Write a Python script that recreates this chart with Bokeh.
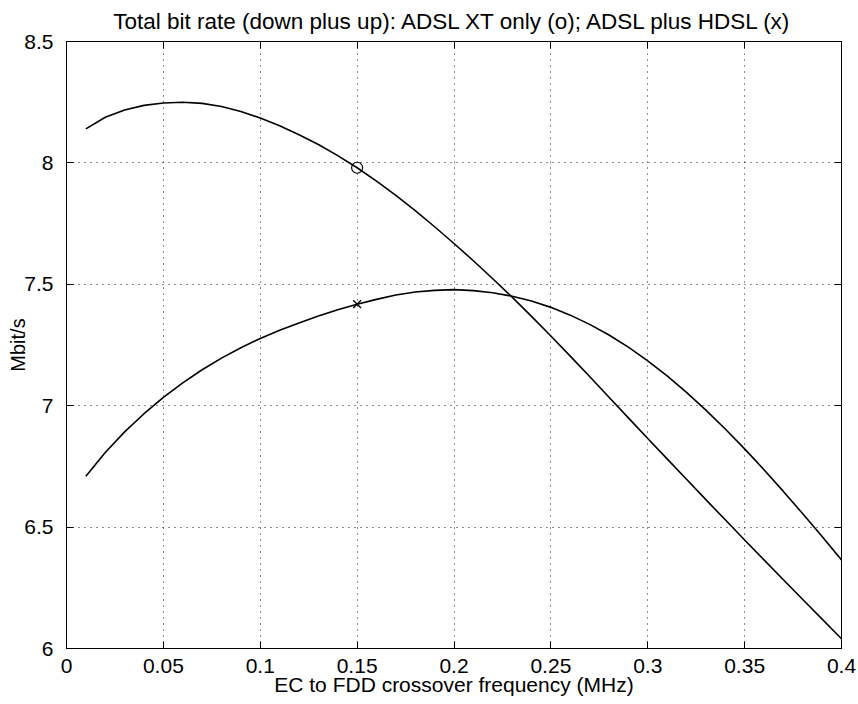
from bokeh.plotting import figure
from bokeh.models import LinearAxis, FixedTicker
from bokeh.embed import file_html
from bokeh.resources import INLINE

# Data
freq = [0.01, 0.02, 0.03, 0.04, 0.05, 0.06, 0.07, 0.08, 0.09, 0.10,
        0.11, 0.12, 0.13, 0.14, 0.15, 0.16, 0.17, 0.18, 0.19, 0.20,
        0.21, 0.22, 0.23, 0.24, 0.25, 0.26, 0.27, 0.28, 0.29, 0.30,
        0.31, 0.32, 0.33, 0.34, 0.35, 0.36, 0.37, 0.38, 0.39, 0.40]
adsl_xt_only = [8.140, 8.188, 8.218, 8.237, 8.247, 8.250, 8.245, 8.232, 8.212, 8.185,
                8.153, 8.116, 8.076, 8.030, 7.980, 7.925, 7.866, 7.803, 7.737, 7.668,
                7.597, 7.523, 7.447, 7.368, 7.287, 7.204, 7.120, 7.035, 6.950, 6.865,
                6.781, 6.697, 6.613, 6.530, 6.447, 6.365, 6.283, 6.202, 6.121, 6.040]
adsl_plus_hdsl = [6.709, 6.807, 6.892, 6.967, 7.034, 7.094, 7.148, 7.196, 7.239, 7.277,
                  7.311, 7.341, 7.369, 7.395, 7.418, 7.438, 7.456, 7.468, 7.475, 7.478,
                  7.474, 7.465, 7.451, 7.431, 7.405, 7.373, 7.335, 7.291, 7.241, 7.185,
                  7.123, 7.055, 6.982, 6.904, 6.822, 6.736, 6.647, 6.555, 6.461, 6.365]
marker_freq = [0.15]
marker_xt_only = [7.980]
marker_plus_hdsl = [7.418]

x_ticks = [0, 0.05, 0.1, 0.15, 0.2, 0.25, 0.3, 0.35, 0.4]
x_tick_labels = ["0", "0.05", "0.1", "0.15", "0.2", "0.25", "0.3", "0.35", "0.4"]
y_ticks = [6, 6.5, 7, 7.5, 8, 8.5]
y_tick_labels = ["6", "6.5", "7", "7.5", "8", "8.5"]
title_text = "Total bit rate (down plus up): ADSL XT only (o); ADSL plus HDSL (x)"

FONT = "Liberation Sans"

p = figure(width=858, height=704, x_range=(0, 0.4), y_range=(6, 8.5),
           output_backend="svg", toolbar_location=None,
           min_border_left=66, min_border_right=17, min_border_top=41, min_border_bottom=56)

p.title.text = title_text
p.title.align = "center"
p.title.vertical_align = "top"
p.title.text_font = FONT
p.title.text_font_size = "22.5px"
p.title.text_font_style = "normal"
p.title.text_color = "black"
p.title.standoff = 12

p.outline_line_color = "black"
p.outline_line_width = 1

def style_axis(ax, ticks, labels, show_labels=True):
    ax.ticker = FixedTicker(ticks=ticks)
    ax.major_tick_in = 7
    ax.major_tick_out = 0
    ax.minor_tick_line_color = None
    ax.axis_line_color = "black"
    ax.major_tick_line_color = "black"
    ax.major_label_text_font = FONT
    ax.major_label_text_color = "black"
    if show_labels:
        ax.major_label_overrides = {t: l for t, l in zip(ticks, labels)}
        ax.major_label_text_font_size = "21px"
    else:
        ax.major_label_overrides = {t: "" for t in ticks}
        ax.major_label_text_font_size = "1px"
        ax.major_label_standoff = 0

style_axis(p.xaxis[0], x_ticks, x_tick_labels)
style_axis(p.yaxis[0], y_ticks, y_tick_labels)
p.xaxis[0].major_label_standoff = 10
p.yaxis[0].major_label_standoff = 13

p.xaxis[0].axis_label = "EC to FDD crossover frequency (MHz)"
p.yaxis[0].axis_label = "Mbit/s"
for ax in (p.xaxis[0], p.yaxis[0]):
    ax.axis_label_text_font = FONT
    ax.axis_label_text_font_style = "normal"
    ax.axis_label_text_color = "black"
p.xaxis[0].axis_label_standoff = -3
p.yaxis[0].axis_label_standoff = -8
p.xaxis[0].axis_label_text_font_size = "21px"
p.yaxis[0].axis_label_text_font_size = "20px"

top_ax = LinearAxis()
right_ax = LinearAxis()
style_axis(top_ax, x_ticks, x_tick_labels, show_labels=False)
style_axis(right_ax, y_ticks, y_tick_labels, show_labels=False)
p.add_layout(top_ax, "above")
p.add_layout(right_ax, "right")

p.xgrid.ticker = FixedTicker(ticks=x_ticks)
p.ygrid.ticker = FixedTicker(ticks=y_ticks)
p.grid.grid_line_color = "black"
p.grid.grid_line_dash = "1 5"
p.grid.grid_line_width = 1
p.grid.grid_line_alpha = 0.9

p.line(freq, adsl_xt_only, line_color="black", line_width=1.6)
p.line(freq, adsl_plus_hdsl, line_color="black", line_width=1.6)
p.scatter(marker_freq, marker_xt_only, marker="circle", size=11,
          fill_color=None, line_color="black", line_width=1.2)
p.scatter(marker_freq, marker_plus_hdsl, marker="x", size=11,
          line_color="black", line_width=1.4)

open("out.html", "w").write(file_html(p, INLINE))
